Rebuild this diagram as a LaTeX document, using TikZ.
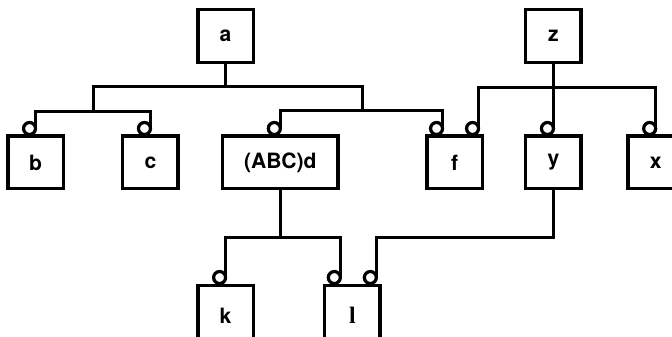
\documentclass[tikz,border=0pt]{standalone}
\usepackage{fontspec}
\setsansfont{TeX Gyre Heros}
\newfontfamily\lserif[BoldFont={Liberation Serif Bold}]{Liberation Serif}
\usepackage{tikz}
\usetikzlibrary{shapes,positioning}
\tikzset{box/.style={rectangle,draw,line width=1.9pt,minimum width=1.15cm,minimum height=1.1cm,inner sep=0.1cm,font=\sffamily\bfseries\fontsize{12.5}{15}\selectfont}}
\tikzset{port/.style={circle,draw,fill=white,line width=1.9pt,minimum size=0.25cm,inner sep=0pt,outer sep=0pt}}
\tikzset{wire/.style={line width=1.9pt}}

\begin{document}
\begin{tikzpicture}[>=stealth]
    \clip (0,0) rectangle (14,7);

    \node[box] (a)at (4.70,6.25) {a};
    \node[box] (z)at (11.53,6.25) {z};
    \node[box] (b)at (0.74,3.615) {b};
    \node[box] (c)at (3.135,3.615) {c};
    \node[box,minimum width=2.4cm] (d)at (5.84,3.615) {(ABC)d};
    \node[box] (f)at (9.47,3.615) {f};
    \node[box] (y)at (11.53,3.615) {y};
    \node[box] (x)at (13.66,3.615) {x};
    % bottom row runs off the page
    \node[box,minimum height=1.26cm] (k)at (4.70,0.43) {k};
    \node[box,minimum height=1.26cm,font=\lserif\bfseries\fontsize{14}{16}\selectfont] (l)at (7.34,0.43) {l};

    % little circles sitting on the boxes
    \node[port] (pb)at ([xshift=-0.125cm,yshift=0.125cm]b.north) {};
    \node[port] (pc)at ([xshift=-0.125cm,yshift=0.125cm]c.north) {};
    \node[port] (pd)at ([xshift=-0.125cm,yshift=0.125cm]d.north) {};
    \node[port] (pf1)at ([xshift=-0.375cm,yshift=0.125cm]f.north) {};
    \node[port] (pf2)at ([xshift=0.375cm,yshift=0.125cm]f.north) {};
    \node[port] (py)at ([xshift=-0.125cm,yshift=0.125cm]y.north) {};
    \node[port] (px)at ([xshift=-0.125cm,yshift=0.125cm]x.north) {};
    \node[port] (pk)at ([xshift=-0.125cm,yshift=0.125cm]k.north) {};
    \node[port] (pl1)at ([xshift=-0.375cm,yshift=0.125cm]l.north) {};
    \node[port] (pl2)at ([xshift=0.375cm,yshift=0.125cm]l.north) {};

    \coordinate (ja) at (a |- 0,5.19);
    \coordinate (jbc) at (1.94,4.67);
    \coordinate (jdf) at (7.56,4.69);
    \coordinate (jz) at (z |- 0,5.17);
    \coordinate (jkl) at (d |- 0,2.06);
    \coordinate (jyl) at (y |- 0,2.06);

    \draw [wire] (a.south) -- (ja) -| (jbc) -| (pb.east);
    \draw [wire] (a.south) -- (ja) -| (jbc) -| (pc.east);
    \draw [wire] (a.south) -- (ja) -| (jdf) -| (pd.east);
    \draw [wire] (a.south) -- (ja) -| (jdf) -| (pf1.east);
    \draw [wire] (z.south) -- (jz) -| (pf2.east);
    \draw [wire] (z.south) -- (py.east);
    \draw [wire] (z.south) -- (jz) -| (px.east);
    \draw [wire] (d.south) -- (jkl) -| (pk.east);
    \draw [wire] (d.south) -- (jkl) -| (pl1.east);
    \draw [wire] (y.south) -- (jyl) -| (pl2.east);
\end{tikzpicture}
\end{document}
